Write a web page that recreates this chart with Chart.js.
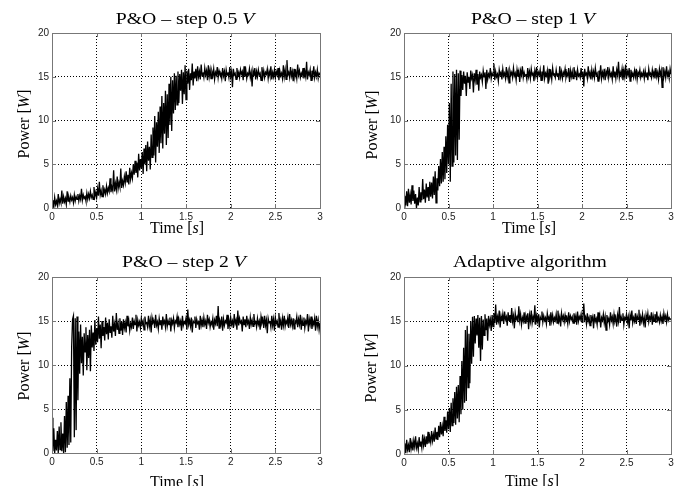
<!DOCTYPE html>
<html>
<head>
<meta charset="utf-8">
<script src="https://cdn.jsdelivr.net/npm/chart.js@4.4.1/dist/chart.umd.min.js"></script>
<style>
  body { margin: 0; background: #fff; }
  #page { position: relative; width: 683px; height: 486px; overflow: hidden;
          font-family: "Liberation Serif", "Times New Roman", serif; color: #000; }
  .panel { position: absolute; }
  .panel canvas { position: absolute; left: 0; top: 0; }
  .txt { position: absolute; white-space: nowrap; line-height: 1; }
  .title { font-size: 17px; transform: translateX(-50%) scaleX(1.16); }
  .xlabel { font-size: 16px; transform: translateX(-50%); }
  .ylabel { font-size: 16px; transform: translate(-50%, -50%) rotate(-90deg); }
</style>
</head>
<body>
<div id="page">
  <div class="panel" id="p1"><canvas id="c1" width="341" height="243"></canvas></div>
  <div class="panel" id="p2"><canvas id="c2" width="342" height="243"></canvas></div>
  <div class="panel" id="p3"><canvas id="c3" width="341" height="243"></canvas></div>
  <div class="panel" id="p4"><canvas id="c4" width="342" height="243"></canvas></div>

  <div class="txt title" style="left:185px; top:10px;">P&amp;O – step 0.5 <i>V</i></div>
  <div class="txt title" style="left:533px; top:10px;">P&amp;O – step 1 <i>V</i></div>
  <div class="txt title" style="left:184px; top:253px;">P&amp;O – step 2 <i>V</i></div>
  <div class="txt title" style="left:530px; top:253px;">Adaptive algorithm</div>

  <div class="txt xlabel" style="left:177px; top:220px;">Time [<i>s</i>]</div>
  <div class="txt xlabel" style="left:529px; top:220px;">Time [<i>s</i>]</div>
  <div class="txt xlabel" style="left:177px; top:474px;">Time [<i>s</i>]</div>
  <div class="txt xlabel" style="left:532px; top:473px;">Time [<i>s</i>]</div>

  <div class="txt ylabel" style="left:24px; top:124px;">Power [<i>W</i>]</div>
  <div class="txt ylabel" style="left:372px; top:125px;">Power [<i>W</i>]</div>
  <div class="txt ylabel" style="left:24px; top:366px;">Power [<i>W</i>]</div>
  <div class="txt ylabel" style="left:371px; top:368px;">Power [<i>W</i>]</div>
</div>
<script>
// sampling interval of the measured power traces [s]
const timeStep = 0.01;
const xTicks = [0, 0.5, 1, 1.5, 2, 2.5, 3];
const yTicks = [0, 5, 10, 15, 20];

// P&O - step 0.5 V  (one row = 0.1 s)
const powerStep05 = [
  0.2, 0.9, 0.1, 1.2, 0.4, 0.8, 0.3, 1.6, 0.5, 1.0,
  0.6, 2.0, 0.5, 1.3, 0.7, 1.1, 0.4, 1.9, 0.8, 1.2,
  0.7, 1.4, 0.9, 1.2, 0.6, 1.5, 0.8, 1.3, 1.0, 1.6,
  0.8, 1.4, 1.0, 2.2, 0.9, 1.5, 1.1, 1.3, 0.8, 1.7,
  1.0, 1.6, 1.1, 1.9, 1.2, 1.5, 1.0, 2.4, 1.3, 1.8,
  1.2, 2.2, 1.4, 3.0, 1.5, 2.0, 1.3, 2.6, 1.6, 2.1,
  1.6, 2.5, 1.7, 2.3, 1.9, 3.4, 1.8, 2.4, 2.0, 4.3,
  1.9, 2.8, 2.1, 3.6, 2.2, 2.9, 2.4, 4.5, 2.3, 3.1,
  2.6, 3.6, 2.9, 4.2, 3.0, 3.8, 2.7, 4.6, 3.3, 4.0,
  3.4, 5.0, 3.8, 5.4, 4.0, 5.2, 3.5, 6.2, 4.3, 5.6,
  4.5, 6.4, 3.9, 6.8, 5.0, 7.2, 4.2, 7.6, 5.4, 7.0,
  4.4, 8.4, 5.8, 9.2, 6.0, 10.5, 5.2, 9.8, 7.0, 11.0,
  6.3, 11.6, 7.4, 12.8, 6.8, 12.0, 8.5, 13.4, 7.2, 13.0,
  8.0, 14.2, 9.5, 15.0, 8.8, 14.6, 10.8, 15.4, 11.2, 15.1,
  11.8, 15.6, 12.0, 15.3, 13.4, 15.8, 11.9, 15.5, 13.0, 16.3,
  12.4, 15.7, 14.2, 15.9, 13.5, 15.4, 14.6, 16.5, 14.0, 15.6,
  14.8, 15.9, 14.5, 16.2, 15.0, 15.6, 14.7, 16.4, 15.1, 15.5,
  14.9, 16.0, 15.2, 15.7, 14.6, 16.3, 15.0, 15.8, 14.8, 15.6,
  15.1, 15.9, 14.7, 15.5, 15.2, 16.1, 14.9, 15.7, 15.3, 15.4,
  14.8, 16.0, 15.1, 15.6, 14.5, 15.8, 15.2, 15.5, 14.9, 16.1,
  15.0, 15.6, 13.8, 15.9, 15.2, 15.4, 14.7, 16.0, 15.1, 15.5,
  14.9, 15.8, 15.3, 15.6, 14.6, 16.2, 15.0, 15.7, 14.8, 15.4,
  15.2, 15.9, 14.9, 15.5, 13.9, 15.7, 15.1, 16.0, 14.7, 15.6,
  15.0, 15.8, 15.2, 15.4, 14.6, 16.1, 15.0, 15.7, 14.9, 15.5,
  15.3, 15.9, 14.8, 15.6, 15.1, 16.2, 14.7, 15.5, 15.0, 15.8,
  14.9, 15.6, 15.2, 16.0, 14.6, 15.7, 15.1, 15.4, 14.8, 16.3,
  15.0, 15.8, 14.7, 16.9, 15.2, 15.5, 14.9, 16.1, 15.1, 15.6,
  14.5, 15.9, 15.0, 15.5, 14.8, 16.4, 15.2, 15.7, 14.9, 15.4,
  15.1, 16.0, 14.8, 15.6, 15.0, 16.7, 14.7, 15.5, 15.2, 15.8,
  14.6, 15.7, 15.1, 16.2, 14.9, 15.5, 15.0, 15.8, 14.8, 15.4,
  15.2
];

// P&O - step 1 V
const powerStep1 = [
  0.1, 1.4, 0.3, 1.9, 0.2, 2.2, 0.6, 1.5, 0.4, 2.6,
  0.8, 2.0, 0.5, 1.6, 0.0, 1.2, 0.3, 2.4, 0.7, 1.8,
  0.9, 3.3, 1.0, 2.1, 0.6, 2.8, 1.2, 2.4, 0.8, 3.0,
  1.3, 2.9, 1.1, 3.6, 1.5, 4.2, 0.6, 3.4, 2.0, 4.8,
  2.5, 5.6, 2.8, 6.4, 3.0, 7.0, 3.3, 8.2, 4.0, 9.5,
  5.0, 12.0, 3.0, 14.2, 4.8, 15.6, 5.2, 15.3, 6.0, 15.8,
  5.5, 15.4, 7.8, 15.7, 12.8, 15.2, 13.5, 15.6, 14.2, 15.1,
  12.8, 15.5, 14.4, 15.0, 13.6, 15.7, 14.8, 15.2, 13.2, 15.4,
  14.6, 15.8, 14.1, 15.3, 13.4, 15.6, 14.9, 15.2, 14.4, 15.7,
  15.0, 15.5, 13.6, 15.8, 14.7, 15.3, 15.0, 16.0, 14.8, 15.4,
  15.1, 16.5, 14.6, 15.6, 15.0, 15.3, 14.5, 15.8, 15.2, 15.5,
  14.7, 15.9, 15.1, 15.4, 14.8, 16.1, 15.0, 15.6, 14.3, 15.7,
  15.2, 15.5, 14.9, 16.0, 15.1, 15.4, 14.6, 15.8, 15.0, 15.6,
  14.4, 15.7, 15.2, 16.2, 14.9, 15.5, 15.1, 15.3, 14.7, 16.0,
  15.0, 15.6, 14.8, 15.9, 15.2, 15.4, 14.5, 15.7, 15.1, 16.1,
  14.9, 15.5, 15.2, 15.8, 14.6, 15.6, 15.0, 16.3, 14.8, 15.4,
  15.1, 15.7, 14.2, 15.9, 15.0, 15.5, 14.7, 16.0, 15.2, 15.3,
  14.9, 15.8, 15.1, 15.4, 14.6, 16.2, 15.0, 15.6, 14.8, 15.5,
  15.2, 15.9, 14.9, 15.4, 15.1, 16.0, 14.4, 15.7, 15.0, 15.6,
  14.8, 16.1, 15.2, 15.5, 14.6, 15.8, 15.1, 15.3, 14.9, 16.0,
  15.0, 15.6, 13.9, 15.9, 15.2, 15.4, 14.8, 16.2, 15.1, 15.5,
  14.7, 15.8, 15.0, 15.6, 14.9, 16.0, 15.2, 15.4, 14.5, 15.7,
  15.1, 16.3, 14.8, 15.5, 15.0, 15.9, 14.6, 15.6, 15.2, 16.1,
  14.9, 15.7, 15.1, 15.4, 14.7, 16.2, 15.0, 15.6, 14.8, 15.8,
  15.2, 16.7, 14.9, 15.5, 15.1, 15.9, 14.6, 15.7, 15.0, 16.4,
  14.8, 15.6, 15.2, 16.0, 14.5, 15.8, 15.1, 15.4, 14.9, 15.7,
  15.0, 15.9, 14.7, 15.5, 15.2, 15.8, 14.9, 15.4, 15.1, 15.6,
  14.8, 15.7, 15.0, 15.5, 14.6, 15.9, 15.2, 15.4, 14.9, 15.8,
  15.1, 15.6, 14.8, 16.0, 15.0, 15.5, 14.7, 15.9, 15.2, 15.7,
  13.8, 16.1, 15.0, 15.6, 14.9, 16.2, 15.1, 15.5, 14.8, 15.9,
  15.3
];

// P&O - step 2 V
const powerStep2 = [
  4.0, 0.2, 2.8, 0.0, 1.5, 0.3, 2.5, 0.0, 3.0, 0.4,
  3.5, 0.2, 2.2, 0.0, 4.2, 0.1, 5.8, 0.6, 6.5, 0.9,
  8.5, 1.2, 12.0, 15.2, 15.6, 1.8, 15.3, 2.6, 15.5, 6.0,
  13.8, 9.0, 14.6, 10.2, 13.2, 8.8, 13.6, 11.5, 14.3, 9.4,
  13.4, 10.8, 14.0, 9.3, 14.5, 12.0, 13.7, 11.6, 15.1, 12.3,
  14.2, 12.6, 15.5, 13.0, 14.6, 11.9, 15.0, 13.3, 14.3, 12.8,
  15.4, 13.5, 14.8, 12.9, 15.2, 13.7, 14.4, 13.1, 15.6, 13.8,
  14.6, 13.3, 15.9, 14.0, 14.7, 13.6, 15.3, 13.9, 14.9, 13.4,
  15.2, 14.2, 14.8, 13.7, 15.6, 14.4, 15.0, 13.9, 14.7, 14.3,
  15.4, 14.1, 15.0, 14.6, 15.7, 13.8, 15.1, 14.5, 14.9, 14.2,
  15.3, 14.6, 15.0, 14.0, 15.5, 14.7, 14.8, 14.3, 15.6, 14.4,
  15.1, 13.7, 15.4, 14.8, 15.0, 14.2, 15.7, 14.5, 14.9, 14.1,
  15.3, 14.6, 15.1, 14.0, 15.5, 14.7, 15.0, 14.3, 15.8, 14.4,
  15.0, 14.6, 15.4, 13.8, 15.1, 14.7, 15.3, 14.2, 15.0, 14.8,
  15.5, 14.3, 15.2, 14.6, 15.0, 13.9, 15.6, 14.5, 14.9, 14.7,
  15.3, 14.0, 16.3, 14.6, 15.1, 14.4, 15.4, 13.7, 15.0, 14.8,
  15.5, 14.2, 15.2, 14.7, 14.9, 14.0, 15.6, 14.5, 15.1, 14.3,
  15.4, 14.6, 15.0, 14.1, 15.7, 14.8, 15.2, 14.3, 14.9, 14.6,
  15.3, 14.0, 15.1, 14.7, 15.6, 14.4, 16.7, 14.2, 15.0, 14.6,
  15.5, 13.9, 15.2, 14.5, 15.0, 14.8, 15.7, 14.1, 15.1, 14.4,
  15.4, 14.6, 15.0, 14.2, 15.8, 14.7, 15.1, 14.0, 16.2, 14.5,
  15.3, 14.8, 15.0, 13.8, 15.5, 14.6, 15.2, 14.3, 15.6, 14.7,
  15.0, 14.1, 15.4, 14.6, 15.1, 14.4, 15.8, 14.7, 14.9, 14.3,
  15.3, 14.6, 15.0, 14.0, 15.5, 14.8, 15.2, 14.2, 15.6, 14.5,
  15.1, 13.6, 15.3, 14.8, 15.0, 14.3, 15.6, 14.5, 15.2, 13.9,
  15.4, 14.7, 15.0, 14.3, 15.9, 14.6, 15.1, 14.0, 15.3, 14.5,
  15.6, 14.4, 15.0, 14.7, 15.4, 14.2, 15.8, 14.6, 15.1, 14.4,
  15.3, 14.1, 15.0, 14.8, 15.5, 14.3, 15.2, 14.6, 15.7, 14.0,
  15.1, 14.5, 15.4, 14.2, 15.0, 14.7, 15.8, 13.8, 15.2, 14.6,
  15.5, 14.1, 15.0, 14.6, 15.3, 13.9, 15.6, 14.4, 15.1, 14.0,
  14.8
];

// Adaptive algorithm
const powerAdaptive = [
  0.3, 1.2, 0.1, 1.6, 0.5, 1.0, 0.2, 1.8, 0.6, 1.3,
  0.4, 1.5, 0.8, 2.0, 0.7, 1.2, 0.5, 1.9, 0.9, 1.4,
  0.7, 2.2, 1.0, 1.7, 0.8, 2.0, 1.1, 2.5, 1.2, 1.9,
  1.3, 2.6, 1.5, 2.2, 1.4, 3.0, 1.7, 2.5, 1.6, 3.2,
  1.9, 3.6, 2.2, 3.1, 2.0, 4.2, 2.6, 3.8, 2.4, 4.8,
  2.8, 5.2, 2.5, 5.8, 3.2, 6.3, 3.5, 7.0, 3.3, 7.6,
  4.0, 7.8, 3.6, 8.8, 4.5, 10.5, 5.0, 12.0, 5.8, 14.0,
  6.0, 14.5, 7.5, 13.6, 8.0, 15.0, 10.2, 15.5, 11.0, 15.6,
  12.5, 15.3, 13.4, 15.7, 12.0, 15.4, 10.5, 15.6, 11.8, 15.2,
  13.4, 15.8, 14.0, 15.3, 12.8, 15.6, 14.6, 15.2, 13.9, 15.7,
  14.4, 15.9, 14.8, 16.9, 14.6, 15.5, 15.0, 16.2, 14.3, 15.6,
  15.0, 15.8, 14.7, 16.1, 15.2, 15.5, 14.5, 16.0, 15.1, 15.7,
  14.8, 16.5, 15.0, 15.6, 14.2, 15.9, 15.2, 15.5, 14.9, 16.7,
  15.1, 15.8, 14.6, 15.4, 15.0, 16.0, 14.8, 15.6, 15.2, 15.9,
  14.1, 15.7, 15.0, 16.2, 14.8, 15.5, 15.1, 16.8, 14.6, 15.6,
  15.0, 15.8, 14.3, 15.5, 15.2, 16.1, 14.9, 15.6, 15.1, 15.4,
  14.7, 15.9, 15.2, 15.5, 14.5, 16.0, 15.0, 15.7, 14.9, 15.4,
  15.1, 15.8, 14.8, 16.2, 15.0, 15.5, 14.4, 15.9, 15.2, 15.6,
  14.9, 15.7, 15.1, 15.4, 14.7, 16.0, 15.0, 15.6, 15.2, 15.5,
  14.8, 15.9, 15.1, 15.6, 14.6, 16.1, 15.0, 15.5, 15.2, 15.8,
  14.9, 15.6, 17.0, 15.2, 15.5, 14.7, 15.9, 15.0, 15.4, 14.5,
  15.7, 15.1, 15.5, 14.2, 15.8, 15.0, 15.3, 14.6, 16.0, 14.9,
  15.6, 14.3, 15.4, 15.1, 15.8, 14.8, 15.5, 14.0, 15.7, 15.0,
  15.3, 14.6, 16.0, 15.1, 15.5, 14.7, 15.8, 15.0, 15.4, 14.4,
  15.7, 15.0, 16.6, 14.8, 15.5, 15.1, 15.9, 14.6, 15.4, 15.2,
  15.8, 14.9, 15.5, 14.2, 15.7, 15.1, 16.2, 14.8, 15.4, 15.0,
  15.9, 14.7, 15.6, 15.2, 16.3, 14.5, 15.5, 15.0, 15.8, 14.8,
  15.4, 14.3, 15.7, 15.1, 15.9, 14.9, 15.5, 15.2, 16.0, 14.6,
  15.6, 15.0, 15.8, 14.8, 16.1, 15.1, 15.4, 14.9, 15.7, 15.0,
  15.5, 14.7, 15.9, 15.2, 15.6, 14.9, 15.8, 15.1, 15.4, 15.2,
  15.3
];

// panel placement: div offset, canvas size and plot box inside the canvas
const panels = [
  { id: "c1", div: "p1", left: 0,   top: 0,   w: 341, h: 243, l: 52, r: 320, t: 33, b: 208, values: powerStep05 },
  { id: "c2", div: "p2", left: 341, top: 0,   w: 342, h: 243, l: 63, r: 330, t: 33, b: 208, values: powerStep1 },
  { id: "c3", div: "p3", left: 0,   top: 243, w: 341, h: 243, l: 52, r: 320, t: 34, b: 210, values: powerStep2 },
  { id: "c4", div: "p4", left: 341, top: 243, w: 342, h: 243, l: 63, r: 330, t: 34, b: 211, values: powerAdaptive },
];

// matlab style box around the axes with small inward ticks
const boxPlugin = {
  id: "box",
  afterDatasetsDraw(chart) {
    const { ctx, chartArea: a, scales } = chart;
    ctx.save();
    ctx.strokeStyle = "#777";
    ctx.lineWidth = 1;
    ctx.beginPath();
    xTicks.forEach(v => {
      const px = Math.round(scales.x.getPixelForValue(v)) + 0.5;
      ctx.moveTo(px, a.bottom); ctx.lineTo(px, a.bottom - 4);
      ctx.moveTo(px, a.top); ctx.lineTo(px, a.top + 4);
    });
    yTicks.forEach(v => {
      const py = Math.round(scales.y.getPixelForValue(v)) + 0.5;
      ctx.moveTo(a.left, py); ctx.lineTo(a.left + 4, py);
      ctx.moveTo(a.right, py); ctx.lineTo(a.right - 4, py);
    });
    ctx.stroke();
    ctx.strokeRect(a.left + 0.5, a.top + 0.5, a.right - a.left, a.bottom - a.top);
    ctx.restore();
  }
};

const tickFont = { family: "'Liberation Sans', Arial, sans-serif", size: 10 };

panels.forEach(p => {
  const div = document.getElementById(p.div);
  div.style.left = p.left + "px";
  div.style.top = p.top + "px";
  div.style.width = p.w + "px";
  div.style.height = p.h + "px";

  new Chart(document.getElementById(p.id), {
    type: "line",
    data: {
      datasets: [{
        data: p.values.map((v, i) => ({ x: i * timeStep, y: v })),
        borderColor: "#000",
        borderWidth: 1.3,
        pointRadius: 0,
        tension: 0,
      }],
    },
    options: {
      responsive: false,
      animation: false,
      devicePixelRatio: 1,
      layout: { padding: { left: 0, top: p.t, right: p.w - p.r, bottom: 0 } },
      plugins: { legend: { display: false }, tooltip: { enabled: false } },
      scales: {
        x: {
          type: "linear",
          min: 0,
          max: 3,
          afterFit: s => { s.height = p.h - p.b; },
          afterBuildTicks: s => { s.ticks = xTicks.map(v => ({ value: v })); },
          ticks: { padding: 3, font: tickFont, color: "#222", maxRotation: 0, autoSkip: false,
                   callback: v => String(v) },
          grid: { color: "#000", lineWidth: 1, drawTicks: false },
          border: { display: false, dash: [1, 2] },
        },
        y: {
          min: 0,
          max: 20,
          afterFit: s => { s.width = p.l; },
          afterBuildTicks: s => { s.ticks = yTicks.map(v => ({ value: v })); },
          ticks: { padding: 3, font: tickFont, color: "#222", autoSkip: false,
                   callback: v => String(v) },
          grid: { color: "#000", lineWidth: 1, drawTicks: false },
          border: { display: false, dash: [1, 2] },
        },
      },
    },
    plugins: [boxPlugin],
  });
});
</script>
</body>
</html>
